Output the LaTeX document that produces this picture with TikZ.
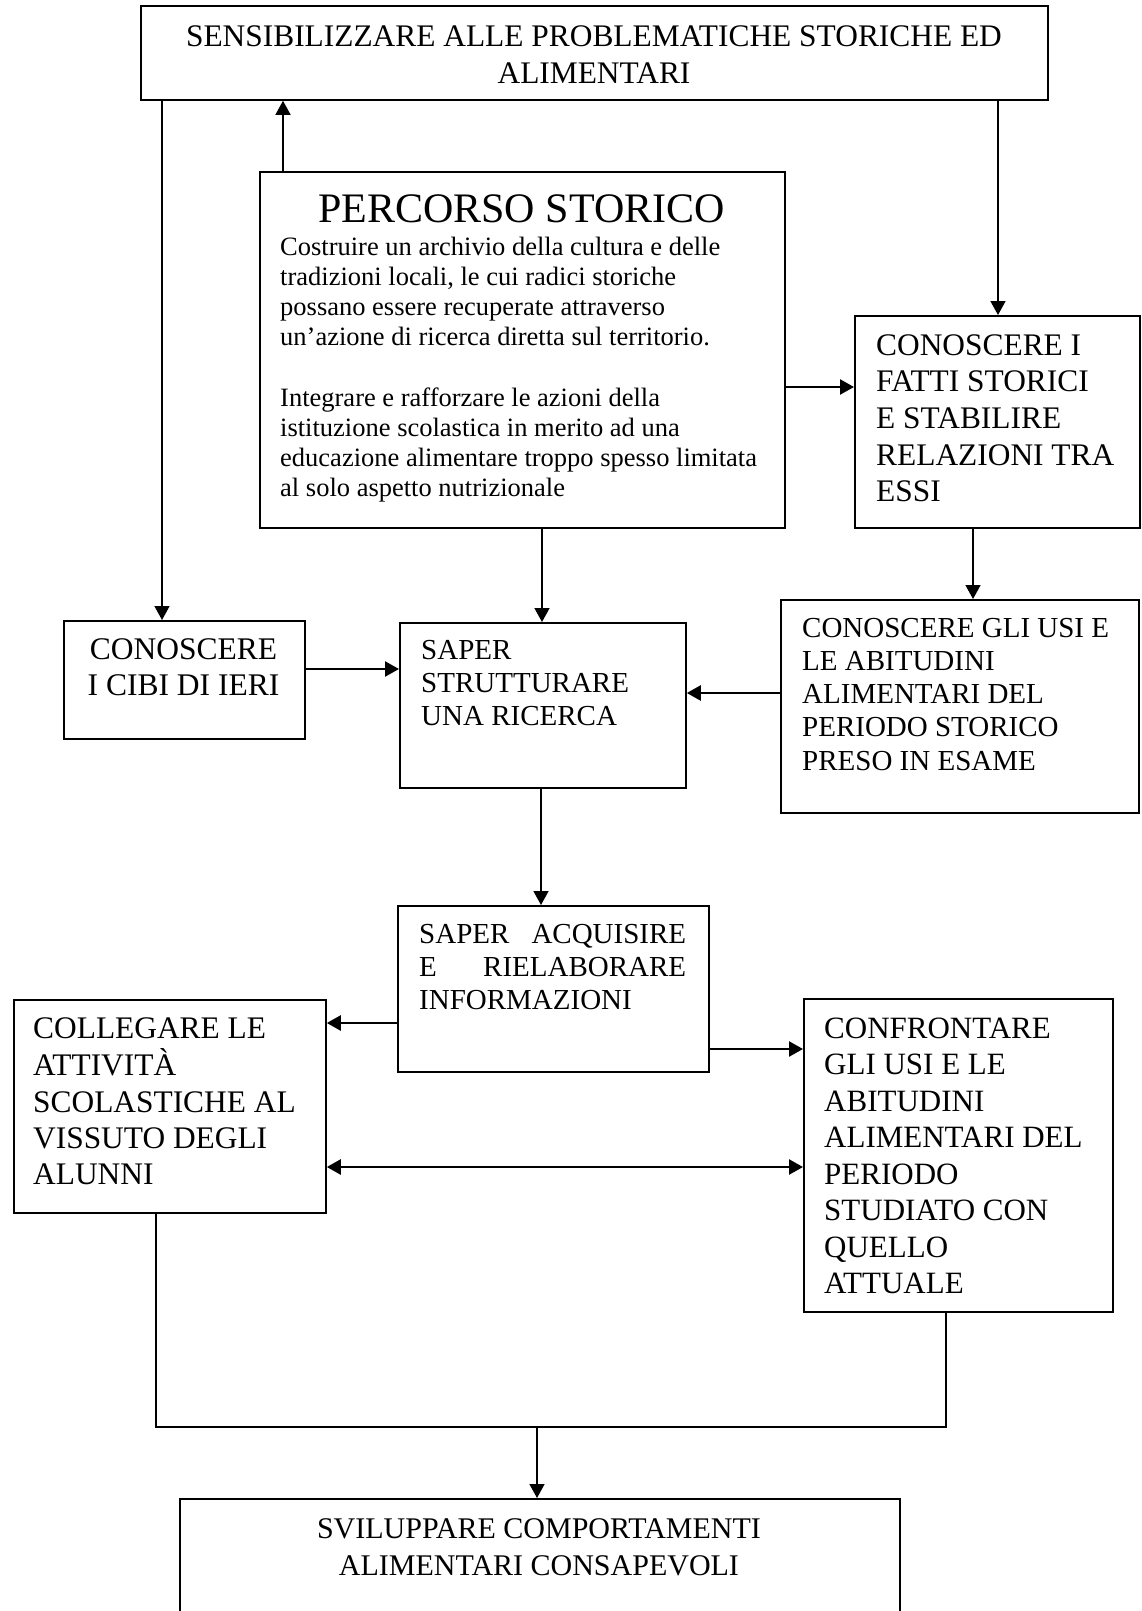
\documentclass[tikz,border=0pt]{standalone}
\usepackage{fontspec}
\setmainfont{Liberation Serif}
\usetikzlibrary{arrows.meta}
\newcommand\fntA{\fontsize{31.4}{36.2}\selectfont}
\newcommand\fntB{\fontsize{29}{33.3}\selectfont}
\begin{document}
\begin{tikzpicture}[x=1pt,y=-1pt,
  box/.style={draw, line width=1.8pt, inner sep=0pt, anchor=north west},
  conn/.style={line width=1.5pt, -{Triangle[length=14pt,width=15pt]}},
  hconn/.style={line width=2.4pt, -{Triangle[length=14pt,width=15pt]}},
  dconn/.style={line width=2.4pt, {Triangle[length=14pt,width=15pt]}-{Triangle[length=14pt,width=15pt]}},
  plainline/.style={line width=1.5pt},
  lbl/.style={inner sep=0pt, anchor=base west},
  clbl/.style={inner sep=0pt, anchor=base},
]
\useasboundingbox (0,0) rectangle (1141,1611);
\fill[white] (0,0) rectangle (1141,1611);
\clip (0,0) rectangle (1141,1611);

% boxes
\node[box, minimum width=907pt, minimum height=94pt]  (T) at (140,5) {};
\node[box, minimum width=525pt, minimum height=356pt] (P) at (259,171) {};
\node[box, minimum width=285pt, minimum height=212pt] (F) at (854,315) {};
\node[box, minimum width=241pt, minimum height=118pt] (C) at (63,620) {};
\node[box, minimum width=286pt, minimum height=165pt] (S) at (399,622) {};
\node[box, minimum width=358pt, minimum height=213pt] (U) at (780,599) {};
\node[box, minimum width=311pt, minimum height=166pt] (A) at (397,905) {};
\node[box, minimum width=312pt, minimum height=213pt] (L) at (13,999) {};
\node[box, minimum width=309pt, minimum height=313pt] (R) at (803,998) {};
\node[box, minimum width=720pt, minimum height=162pt] (V) at (179,1498) {};

% texts
\node[clbl] (tT) at (594,47) {\fontsize{31.4}{37}\selectfont\begin{tabular}[t]{@{}c@{}}SENSIBILIZZARE ALLE PROBLEMATICHE STORICHE ED\\ALIMENTARI\end{tabular}};
\node[clbl] (tPt) at (521.5,222) {\fontsize{42}{48}\selectfont PERCORSO STORICO};
\node[lbl] (tP) at (280,255) {\fontsize{26.5}{30.2}\selectfont\begin{tabular}[t]{@{}l@{}}Costruire un archivio della cultura e delle\\tradizioni locali, le cui radici storiche\\possano essere recuperate attraverso\\un’azione di ricerca diretta sul territorio.\\ \\Integrare e rafforzare le azioni della\\istituzione scolastica in merito ad una\\educazione alimentare troppo spesso limitata\\al solo aspetto nutrizionale\end{tabular}};
\node[lbl] (tF) at (876,355) {\fontsize{31.4}{36.7}\selectfont\begin{tabular}[t]{@{}l@{}}CONOSCERE I\\FATTI STORICI\\E STABILIRE\\RELAZIONI TRA\\ESSI\end{tabular}};
\node[lbl] (tU) at (802,637) {\fntB\begin{tabular}[t]{@{}l@{}}CONOSCERE GLI USI E\\LE ABITUDINI\\ALIMENTARI DEL\\PERIODO STORICO\\PRESO IN ESAME\end{tabular}};
\node[clbl] (tC) at (183.5,659) {\fontsize{31.5}{36.5}\selectfont\begin{tabular}[t]{@{}c@{}}CONOSCERE\\I CIBI DI IERI\end{tabular}};
\node[lbl] (tS) at (421,659) {\fntB\begin{tabular}[t]{@{}l@{}}SAPER\\STRUTTURARE\\UNA RICERCA\end{tabular}};
\node[lbl] (tA) at (419,943) {\fntB\begin{tabular}[t]{@{}p{267pt}@{}}SAPER\hfill ACQUISIRE\\E\hfill RIELABORARE\\INFORMAZIONI\end{tabular}};
\node[lbl] (tL) at (33,1038) {\fntA\begin{tabular}[t]{@{}l@{}}COLLEGARE LE\\ATTIVITÀ\\SCOLASTICHE AL\\VISSUTO DEGLI\\ALUNNI\end{tabular}};
\node[lbl] (tR) at (824,1038) {\fontsize{31}{36.5}\selectfont\begin{tabular}[t]{@{}l@{}}CONFRONTARE\\GLI USI E LE\\ABITUDINI\\ALIMENTARI DEL\\PERIODO\\STUDIATO CON\\QUELLO\\ATTUALE\end{tabular}};
\node[clbl] (tV) at (539,1538) {\fontsize{30}{37.3}\selectfont\begin{tabular}[t]{@{}c@{}}SVILUPPARE COMPORTAMENTI\\ALIMENTARI CONSAPEVOLI\end{tabular}};

% connectors
\draw[conn] (P.north -| 283,0) -- (T.south -| 283,0);
\draw[conn] (T.south -| 162,0) -- (C.north -| 162,0);
\draw[conn] (T.south -| 998,0) -- (F.north -| 998,0);
\draw[hconn] (P.east |- 0,387) -- (F.west |- 0,387);
\draw[conn] (F.south -| 973,0) -- (U.north -| 973,0);
\draw[conn] (P.south -| 542,0) -- (S.north -| 542,0);
\draw[hconn] (C.east |- 0,669) -- (S.west |- 0,669);
\draw[hconn] (U.west |- 0,693) -- (S.east |- 0,693);
\draw[conn] (S.south -| 541,0) -- (A.north -| 541,0);
\draw[hconn] (A.west |- 0,1023) -- (L.east |- 0,1023);
\draw[hconn] (A.east |- 0,1049) -- (R.west |- 0,1049);
\draw[dconn] (L.east |- 0,1167) -- (R.west |- 0,1167);
\coordinate (J) at (537,1427);
\draw[plainline] (L.south -| 156,0) -- (156,1427) -- (946,1427) -- (R.south -| 946,0);
\draw[conn] (J) -- (V.north -| J);
\end{tikzpicture}
\end{document}
